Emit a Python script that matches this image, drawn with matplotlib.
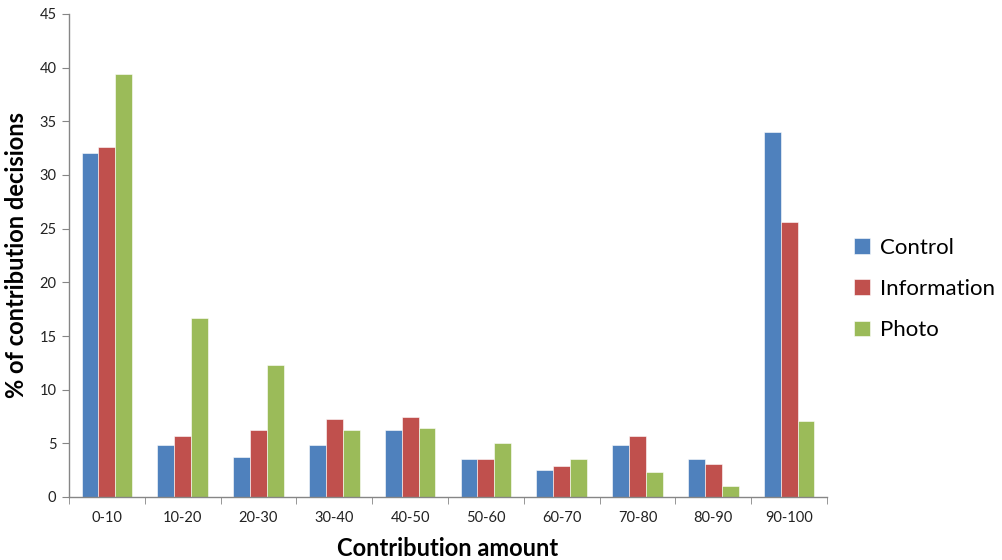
import matplotlib
matplotlib.use("Agg")
import matplotlib.pyplot as plt
import numpy as np
from matplotlib.patches import Patch

plt.rcParams['font.family'] = ['Lato', 'DejaVu Sans']

categories = ["0-10", "10-20", "20-30", "30-40", "40-50",
              "50-60", "60-70", "70-80", "80-90", "90-100"]
control = [32.05, 4.8, 3.7, 4.8, 6.2, 3.5, 2.55, 4.8, 3.5, 34.0]
information = [32.6, 5.7, 6.2, 7.3, 7.5, 3.5, 2.9, 5.7, 3.1, 25.6]
photo = [39.4, 16.7, 12.3, 6.2, 6.45, 5.0, 3.5, 2.3, 1.05, 7.1]
series_names = ["Control", "Information", "Photo"]
colors = ["#4F81BD", "#C0504D", "#9BBB59"]
yticks = [0, 5, 10, 15, 20, 25, 30, 35, 40, 45]

fig = plt.figure(figsize=(10.02, 5.6), dpi=100)
ax = fig.add_axes([69 / 1002, 1 - 497 / 560, (827 - 69) / 1002, (497 - 14) / 560])

x = np.arange(len(categories))
w = 1 / 4.5
for i, (vals, c) in enumerate(zip([control, information, photo], colors)):
    ax.bar(x + (i - 1) * w, vals, width=w, color=c,
           edgecolor="white", linewidth=0.4, zorder=2)

ax.set_xlim(-0.5, len(categories) - 0.5)
ax.set_ylim(0, 45)
ax.set_yticks(yticks)
ax.set_yticklabels([str(v) for v in yticks], fontsize=10.5, color="#222222")

# category labels centred, tick marks on category boundaries
ax.set_xticks(x)
ax.set_xticklabels(categories, fontsize=10.5, color="#222222")
ax.tick_params(axis="x", which="major", length=0, pad=10)
ax.set_xticks(np.arange(-0.5, len(categories)), minor=True)
ax.tick_params(axis="x", which="minor", length=5, color="#868686", direction="out")
ax.tick_params(axis="y", length=5, color="#868686", direction="out", pad=4)

for s in ["top", "right"]:
    ax.spines[s].set_visible(False)
for s in ["left", "bottom"]:
    ax.spines[s].set_color("#868686")
    ax.spines[s].set_linewidth(1.0)

ax.set_xlabel("Contribution amount", fontsize=17, fontweight="bold", labelpad=9)
ax.set_ylabel("% of contribution decisions", fontsize=17, fontweight="bold", labelpad=8)

handles = [Patch(facecolor=c, edgecolor="white", linewidth=0.4) for c in colors]
fig.legend(handles, series_names, loc="center left",
           bbox_to_anchor=(854 / 1002, 1 - 289 / 560), frameon=False,
           fontsize=16, handlelength=0.7, handleheight=0.7,
           handletextpad=0.45, labelspacing=0.95, borderpad=0, borderaxespad=0)

fig.savefig("out.png", dpi=100)
